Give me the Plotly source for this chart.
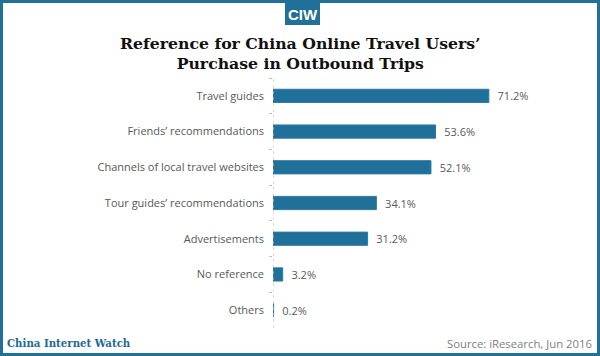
import plotly.graph_objects as go

categories = ["Travel guides", "Friends’ recommendations", "Channels of local travel websites",
              "Tour guides’ recommendations", "Advertisements", "No reference", "Others"]
values = [71.2, 53.6, 52.1, 34.1, 31.2, 3.2, 0.2]
value_labels = [f"{v:.1f}%" for v in values]

BLUE = "#21709A"
GRAY = "#595959"

L, R, T, B = 273, 39, 78, 28
PW, PH = 600 - L - R, 356 - T - B


def px(x):
    return (x - L) / PW


def py(y):
    return (356 - B - y) / PH


fig = go.Figure(go.Bar(
    x=values, y=categories, orientation="h",
    marker=dict(color=BLUE, line=dict(color="#2a7ba6", width=1)),
    width=0.37,
    text=["  " + t for t in value_labels], textposition="outside", cliponaxis=False,
    constraintext="none",
    textfont=dict(family="Open Sans", size=11, color=GRAY),
))

fig.update_layout(
    width=600, height=356,
    margin=dict(l=L, r=R, t=T, b=B),
    paper_bgcolor="white", plot_bgcolor="white",
    showlegend=False,
    xaxis=dict(range=[0, 95], visible=False, fixedrange=True),
    yaxis=dict(autorange="reversed", showgrid=False, zeroline=False, showline=False,
               ticks="outside", ticklen=3, tickcolor="#bfbfbf", tickson="boundaries",
               ticklabelstandoff=8, automargin=False, fixedrange=True,
               tickfont=dict(family="Open Sans", size=11, color=GRAY)),
    font=dict(family="Open Sans"),
)

# dotted axis line
fig.add_shape(type="line", xref="x", yref="paper", x0=0, x1=0, y0=0, y1=1,
              line=dict(color="#bfbfbf", width=1, dash="dot"))

# outer border
fig.add_shape(type="rect", xref="paper", yref="paper", x0=px(1.5), x1=px(598.5),
              y0=py(354.5), y1=py(1.5), line=dict(color=BLUE, width=3), layer="above")

# logo
fig.add_shape(type="rect", xref="paper", yref="paper",
              x0=px(285), x1=px(320), y0=py(25), y1=py(3),
              fillcolor=BLUE, line=dict(width=0))
fig.add_annotation(text="<b>CIW</b>", xref="paper", yref="paper",
                   x=px(302.5), y=py(14), xanchor="center", yanchor="middle", showarrow=False,
                   font=dict(family="Liberation Sans Narrow, Liberation Sans", size=15, color="white"))

# title
fig.add_annotation(text="<b>Reference for China Online Travel Users’<br>Purchase in Outbound Trips</b>",
                   xref="paper", yref="paper", x=px(300), y=py(54), xanchor="center", yanchor="middle",
                   showarrow=False, align="center",
                   font=dict(family="DejaVu Serif", size=15.7, color="#111111"))

# footer
fig.add_annotation(text="<b>China Internet Watch</b>", xref="paper", yref="paper",
                   x=px(5), y=py(343), xanchor="left", yanchor="middle", showarrow=False,
                   font=dict(family="DejaVu Serif", size=10.2, color="#1d6a92"))
fig.add_annotation(text="Source: iResearch, Jun 2016", xref="paper", yref="paper",
                   x=px(594), y=py(343), xanchor="right", yanchor="middle", showarrow=False,
                   font=dict(family="Open Sans", size=11.3, color="#808080"))

fig.write_html("out.html", config={"displayModeBar": False},
               post_script="document.body.style.margin='0';")
